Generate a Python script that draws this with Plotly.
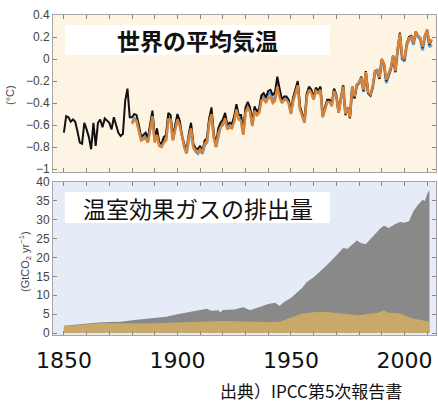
import plotly.graph_objects as go

# ---------------- data ----------------
temp_years_black = list(range(1850, 2013))
temp_black = [
    -0.67, -0.52, -0.53, -0.57, -0.55, -0.57, -0.66, -0.76, -0.77, -0.58,
    -0.64, -0.71, -0.82, -0.58, -0.79, -0.58, -0.55, -0.62, -0.54, -0.56,
    -0.58, -0.64, -0.53, -0.60, -0.67, -0.70, -0.68, -0.38, -0.27, -0.53,
    -0.53, -0.50, -0.51, -0.60, -0.71, -0.69, -0.67, -0.72, -0.61, -0.47,
    -0.72, -0.63, -0.76, -0.77, -0.71, -0.69, -0.49, -0.51, -0.71, -0.59,
    -0.50, -0.56, -0.70, -0.78, -0.82, -0.68, -0.58, -0.77, -0.81, -0.82,
    -0.79, -0.84, -0.74, -0.72, -0.54, -0.44, -0.68, -0.77, -0.63, -0.58,
    -0.55, -0.49, -0.60, -0.58, -0.59, -0.52, -0.41, -0.51, -0.51, -0.65,
    -0.44, -0.39, -0.44, -0.57, -0.43, -0.48, -0.45, -0.33, -0.31, -0.35,
    -0.29, -0.28, -0.33, -0.30, -0.16, -0.27, -0.37, -0.34, -0.34, -0.37,
    -0.47, -0.35, -0.27, -0.20, -0.43, -0.49, -0.57, -0.31, -0.25, -0.28,
    -0.35, -0.26, -0.29, -0.25, -0.52, -0.44, -0.37, -0.37, -0.41, -0.27,
    -0.33, -0.49, -0.37, -0.24, -0.51, -0.45, -0.54, -0.25, -0.36, -0.24,
    -0.21, -0.16, -0.29, -0.11, -0.31, -0.33, -0.26, -0.11, -0.10, -0.18,
    0.00, -0.05, -0.20, -0.15, -0.09, 0.03, -0.12, 0.09, 0.24, 0.01,
    -0.01, 0.14, 0.20, 0.21, 0.15, 0.25, 0.21, 0.19, 0.10, 0.21,
    0.26, 0.13, 0.17,
]

temp_years_other = list(range(1880, 2013))
temp_orange = [
    -0.59, -0.55, -0.56, -0.64, -0.74, -0.73, -0.72, -0.76, -0.65, -0.52,
    -0.76, -0.69, -0.79, -0.80, -0.76, -0.74, -0.55, -0.55, -0.74, -0.64,
    -0.55, -0.60, -0.72, -0.80, -0.85, -0.71, -0.63, -0.80, -0.83, -0.85,
    -0.82, -0.85, -0.77, -0.75, -0.58, -0.50, -0.71, -0.80, -0.68, -0.62,
    -0.60, -0.54, -0.64, -0.62, -0.63, -0.57, -0.46, -0.55, -0.56, -0.69,
    -0.49, -0.44, -0.48, -0.61, -0.47, -0.51, -0.49, -0.38, -0.36, -0.40,
    -0.35, -0.35, -0.40, -0.38, -0.25, -0.35, -0.40, -0.37, -0.37, -0.40,
    -0.50, -0.38, -0.31, -0.24, -0.46, -0.52, -0.58, -0.34, -0.28, -0.31,
    -0.37, -0.29, -0.31, -0.28, -0.53, -0.46, -0.39, -0.39, -0.43, -0.29,
    -0.34, -0.49, -0.38, -0.25, -0.50, -0.45, -0.53, -0.25, -0.34, -0.23,
    -0.21, -0.17, -0.28, -0.12, -0.30, -0.32, -0.25, -0.12, -0.10, -0.17,
    0.00, -0.04, -0.19, -0.14, -0.08, 0.03, -0.11, 0.09, 0.23, 0.02,
    0.00, 0.13, 0.19, 0.20, 0.15, 0.25, 0.21, 0.19, 0.11, 0.21,
    0.27, 0.14, 0.18,
]
temp_blue = [
    -0.58, -0.54, -0.56, -0.63, -0.72, -0.72, -0.70, -0.75, -0.64, -0.50,
    -0.74, -0.68, -0.77, -0.79, -0.75, -0.73, -0.53, -0.54, -0.73, -0.62,
    -0.54, -0.59, -0.71, -0.79, -0.86, -0.72, -0.62, -0.80, -0.84, -0.86,
    -0.83, -0.86, -0.78, -0.76, -0.57, -0.49, -0.70, -0.80, -0.69, -0.61,
    -0.59, -0.53, -0.63, -0.61, -0.62, -0.56, -0.45, -0.54, -0.55, -0.68,
    -0.48, -0.43, -0.47, -0.60, -0.46, -0.50, -0.48, -0.36, -0.33, -0.37,
    -0.32, -0.31, -0.37, -0.35, -0.22, -0.33, -0.39, -0.36, -0.36, -0.39,
    -0.49, -0.37, -0.30, -0.23, -0.45, -0.51, -0.57, -0.33, -0.27, -0.30,
    -0.36, -0.28, -0.30, -0.27, -0.52, -0.45, -0.38, -0.38, -0.42, -0.28,
    -0.33, -0.48, -0.37, -0.24, -0.49, -0.44, -0.52, -0.26, -0.35, -0.24,
    -0.22, -0.18, -0.30, -0.13, -0.31, -0.33, -0.26, -0.13, -0.11, -0.18,
    -0.02, -0.05, -0.22, -0.16, -0.09, 0.02, -0.12, 0.07, 0.21, 0.00,
    -0.02, 0.12, 0.18, 0.19, 0.13, 0.24, 0.20, 0.18, 0.08, 0.20,
    0.25, 0.11, 0.13,
]

emis_years_total = [1850, 1855, 1860, 1865, 1870, 1875, 1880, 1885, 1890, 1895,
                    1900, 1905, 1910, 1913, 1915, 1918, 1919, 1920, 1925, 1929,
                    1932, 1935, 1937, 1940, 1943, 1945, 1947, 1950, 1955, 1957,
                    1960, 1965, 1970, 1973, 1975, 1979, 1981, 1983, 1986, 1989,
                    1991, 1993, 1996, 1998, 2000, 2002, 2004, 2006, 2008, 2009,
                    2010, 2011]
emis_total = [1.9, 2.2, 2.6, 2.8, 2.9, 3.0, 3.4, 3.7, 4.1, 4.3,
              5.0, 5.6, 6.1, 6.4, 5.9, 6.0, 5.5, 6.1, 6.2, 6.8,
              6.0, 6.6, 7.2, 7.7, 8.0, 7.2, 8.2, 9.3, 12.0, 13.5,
              14.8, 17.5, 20.5, 22.5, 22.3, 24.5, 23.8, 23.6, 25.5, 27.5,
              28.5, 27.8, 28.9, 29.4, 29.2, 29.6, 32.3, 34.0, 35.3, 35.0,
              36.9, 37.8]

emis_years_land = [1850, 1855, 1860, 1865, 1870, 1875, 1880, 1885, 1890, 1895,
                   1900, 1905, 1910, 1915, 1920, 1925, 1930, 1935, 1940, 1945,
                   1950, 1953, 1955, 1960, 1965, 1970, 1975, 1980, 1985, 1988,
                   1991, 1993, 1995, 1998, 2000, 2003, 2005, 2008, 2011]
emis_land = [1.8, 2.1, 2.4, 2.6, 2.6, 2.5, 2.4, 2.5, 2.6, 2.7,
             2.8, 2.9, 3.0, 3.1, 3.2, 3.1, 3.0, 2.9, 2.9, 3.0,
             4.0, 4.8, 5.2, 5.5, 5.6, 5.3, 4.9, 4.7, 5.2, 5.3,
             6.0, 5.4, 5.3, 5.2, 4.7, 3.9, 3.7, 3.4, 3.0]

x_ticklabels = [1850, 1900, 1950, 2000]
temp_ticks = [0.4, 0.2, 0, -0.2, -0.4, -0.6, -0.8, -1]
emis_ticks = [0, 5, 10, 15, 20, 25, 30, 35, 40]

title_top = "世界の平均気温"
title_bottom = "温室効果ガスの排出量"
ytitle_top = "(°C)"
ytitle_bottom = "(GtCO<sub>2</sub> yr<sup>−1</sup>)"
source_text = "出典）IPCC第5次報告書"

# ---------------- layout constants ----------------
W, H = 438, 402
X_DOM = [53 / W, 436 / W]
Y_TOP = [1 - 172.3 / H, 1 - 15 / H]
Y_BOT = [1 - 334.9 / H, 1 - 182 / H]
X_RANGE = [1845.2, 2013.9]

CREAM = "#fdf4e3"
PALEBLUE = "#e5ecf7"
FRAME = "#a6a6a6"
GREY = "#898989"
TAN = "#c8a96a"
ORANGE = "#d8833a"
BLUE = "#5b9fd6"

fig = go.Figure()

# temperature lines
fig.add_trace(go.Scatter(x=temp_years_other, y=temp_blue, mode="lines",
                         line=dict(color=BLUE, width=2.8), xaxis="x", yaxis="y",
                         showlegend=False, hoverinfo="skip"))
fig.add_trace(go.Scatter(x=temp_years_black, y=temp_black, mode="lines",
                         line=dict(color="#111111", width=2.0), xaxis="x", yaxis="y",
                         showlegend=False, hoverinfo="skip"))
fig.add_trace(go.Scatter(x=temp_years_other, y=temp_orange, mode="lines",
                         line=dict(color=ORANGE, width=2.5), xaxis="x", yaxis="y",
                         showlegend=False, hoverinfo="skip"))

# emissions areas
fig.add_trace(go.Scatter(x=emis_years_total, y=emis_total, mode="lines",
                         line=dict(color=GREY, width=0), fill="tozeroy",
                         fillcolor=GREY, xaxis="x2", yaxis="y2",
                         showlegend=False, hoverinfo="skip"))
fig.add_trace(go.Scatter(x=emis_years_land, y=emis_land, mode="lines",
                         line=dict(color=TAN, width=0), fill="tozeroy",
                         fillcolor=TAN, xaxis="x2", yaxis="y2",
                         showlegend=False, hoverinfo="skip"))

tickfont = dict(family="Liberation Sans, Arial, sans-serif", size=12, color="#444444")

common_x = dict(range=X_RANGE, domain=X_DOM, showgrid=False, zeroline=False,
                showline=True, linecolor=FRAME, linewidth=1, mirror="ticks",
                ticks="inside", ticklen=4, tickcolor="#888888", automargin=False,
                tickvals=x_ticklabels,
                minor=dict(dtick=10, tick0=1850, ticks="inside", ticklen=4,
                           tickcolor="#888888", showgrid=False))
common_y = dict(showgrid=False, zeroline=False, showline=True, linecolor=FRAME,
                linewidth=1, mirror="ticks", ticks="inside", ticklen=4,
                tickcolor="#888888", tickfont=tickfont, automargin=False)

fig.update_layout(
    width=W, height=H,
    margin=dict(l=0, r=0, t=0, b=0, autoexpand=False),
    paper_bgcolor="white",
    plot_bgcolor="rgba(0,0,0,0)",
    xaxis=dict(**common_x, anchor="y", showticklabels=False),
    yaxis=dict(**common_y, domain=Y_TOP, range=[-1.03, 0.4], anchor="x",
               tickvals=temp_ticks,
               ticktext=[f"{v:g}".replace("-", "\u2212") for v in temp_ticks]),
    xaxis2=dict(**common_x, anchor="y2", showticklabels=True,
                tickfont=dict(family="DejaVu Sans, sans-serif", size=22, color="#111111"),
                ticklabelstandoff=6),
    yaxis2=dict(**common_y, domain=Y_BOT, range=[-0.5, 40], anchor="x2",
                tickvals=emis_ticks),
    shapes=[
        dict(type="rect", xref="x domain", yref="y domain", x0=0, x1=1, y0=0, y1=1,
             fillcolor=CREAM, line=dict(width=0), layer="below"),
        dict(type="rect", xref="x2 domain", yref="y2 domain", x0=0, x1=1, y0=0, y1=1,
             fillcolor=PALEBLUE, line=dict(width=0), layer="below"),
        dict(type="rect", xref="paper", yref="paper",
             x0=65 / W, x1=330 / W, y0=1 - 55 / H, y1=1 - 25 / H,
             fillcolor="white", line=dict(width=0), layer="above"),
        dict(type="rect", xref="paper", yref="paper",
             x0=65 / W, x1=330 / W, y0=1 - 223 / H, y1=1 - 192 / H,
             fillcolor="white", line=dict(width=0), layer="above"),
    ],
    annotations=[
        dict(text=title_top, xref="paper", yref="paper", x=197.5 / W, y=1 - 40 / H,
             showarrow=False, xanchor="center", yanchor="middle",
             font=dict(family="Noto Sans CJK JP", size=23, color="#111111", weight="bold")),
        dict(text=title_bottom, xref="paper", yref="paper", x=197.5 / W, y=1 - 208 / H,
             showarrow=False, xanchor="center", yanchor="middle",
             font=dict(family="Noto Sans CJK JP", size=23, color="#111111")),
        dict(text=ytitle_top, xref="paper", yref="paper", x=10 / W, y=1 - 95 / H,
             showarrow=False, xanchor="center", yanchor="middle", textangle=-90,
             font=dict(family="Liberation Sans, Arial, sans-serif", size=11, color="#444444")),
        dict(text=ytitle_bottom, xref="paper", yref="paper", x=25 / W, y=1 - 262 / H,
             showarrow=False, xanchor="center", yanchor="middle", textangle=-90,
             font=dict(family="Liberation Sans, Arial, sans-serif", size=11, color="#444444")),
        dict(text=source_text, xref="paper", yref="paper", x=311 / W, y=1 - 390 / H,
             showarrow=False, xanchor="center", yanchor="middle", borderpad=0,
             font=dict(family="Noto Sans CJK JP", size=17, color="#111111")),
    ],
)

# remove the default 8px page margin so the 438x402 figure fills the window exactly
fig.write_html("out.html", config={"displayModeBar": False},
               post_script="document.body.style.margin='0';")
